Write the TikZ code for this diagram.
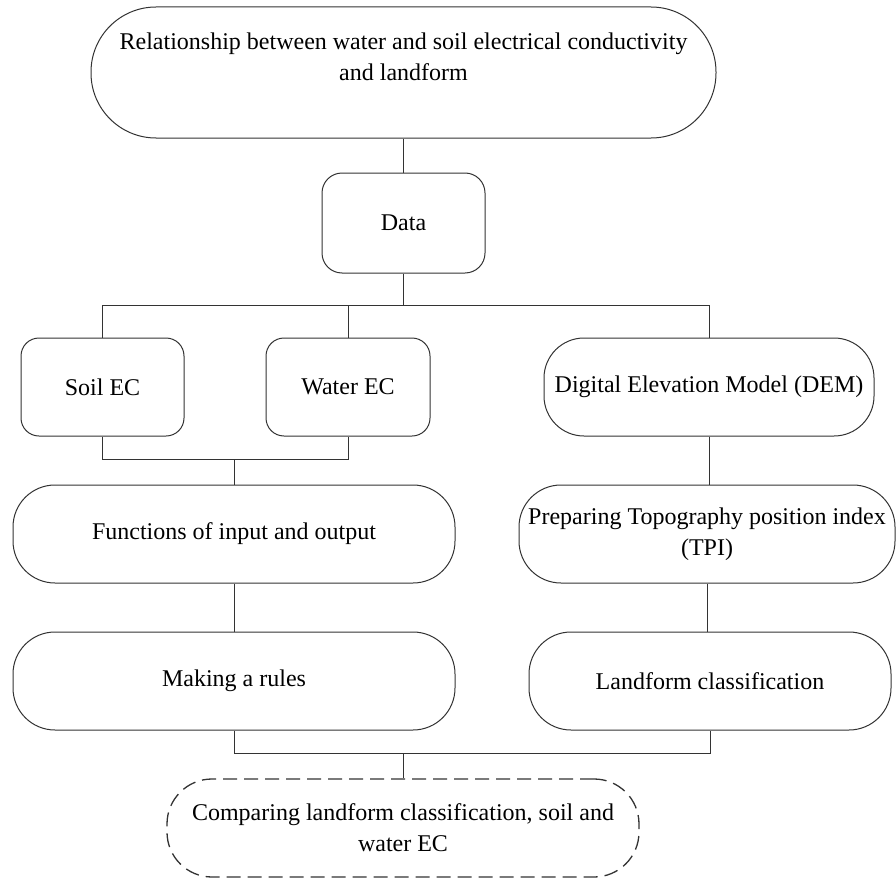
\documentclass[tikz,border=0pt]{standalone}
\usepackage{fontspec}
\setmainfont{Liberation Serif}
\begin{document}
\begin{tikzpicture}[x=1pt, y=-1pt,
    box/.style={draw=black!80, line width=1pt, align=center, inner sep=2pt,
        minimum height=98pt, font=\fontsize{24}{31}\selectfont},
    link/.style={draw=black!80, line width=1pt}]

\useasboundingbox (0,0) rectangle (896,880);

% Boxes
\node[box, rounded corners=65pt, minimum width=625pt, minimum height=131pt] (rel) at (403.5,72.5)
    {Relationship between water and soil electrical conductivity\\and landform\\ \mbox{}};
\node[box, rounded corners=20pt, minimum width=163pt, minimum height=100pt] (data) at (403.5,223) {Data};

\node[box, rounded corners=18pt, minimum width=163pt] (soil) at (102.5,387) {Soil EC};
\node[box, rounded corners=18pt, minimum width=164pt] (water) at (348,387) {Water EC};
\node[box, rounded corners=40pt, minimum width=330pt] (dem) at (709,387) {Digital Elevation Model (DEM)};

\node[box, rounded corners=42pt, minimum width=442pt] (func) at (234,534) {Functions of input and output};
\node[box, rounded corners=42pt, minimum width=376pt] (tpi) at (707,534) {Preparing Topography position index\\(TPI)};

\node[box, rounded corners=42pt, minimum width=442pt] (rules) at (234,681) {Making a rules};
\node[box, rounded corners=42pt, minimum width=362pt] (landform) at (710,681) {Landform classification};

\node[box, line width=1.3pt, dash pattern=on 14pt off 7pt, rounded corners=45pt, minimum width=472pt] (compare) at (403,828)
    {Comparing landform classification, soil and\\water EC};

% Bus points
\coordinate (busA) at ([yshift=-32pt]data.south);
\coordinate (busB) at ([yshift=25pt]func.north);
\coordinate (busC) at ([yshift=25pt]compare.north);

% Lines
\draw[link] (rel.south) -- (data.north);
\draw[link] (data.south) -- (busA);
\draw[link] (soil.north) |- (busA) -| (dem.north);
\draw[link] (water.north) -- (water.north |- busA);
\draw[link] (soil.south) |- (busB) -| (water.south);
\draw[link] (busB) -- (func.north);
\draw[link] (dem.south) -- (dem.south |- tpi.north);
\draw[link] (func.south) -- (rules.north);
\draw[link] (tpi.south) -- (tpi.south |- landform.north);
\draw[link] (rules.south) |- (busC) -| (landform.south);
\draw[link] (busC) -- (compare.north);

\end{tikzpicture}
\end{document}
